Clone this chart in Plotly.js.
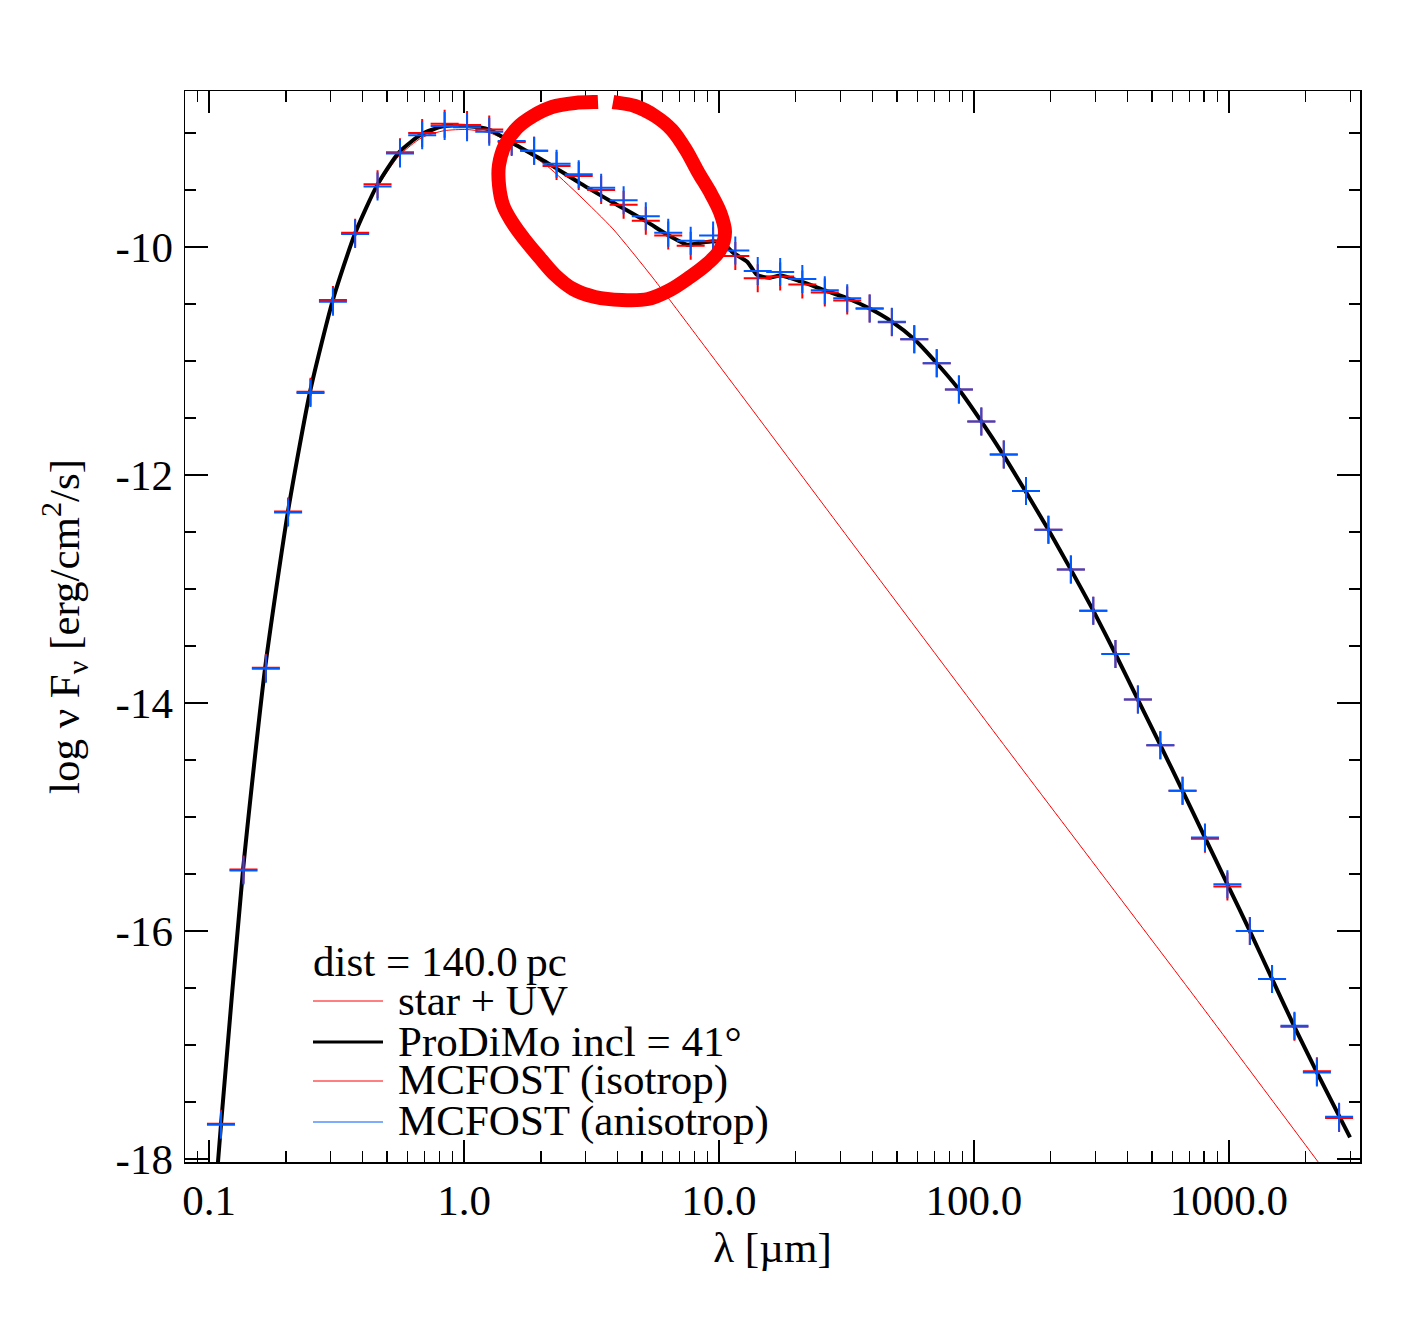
<!DOCTYPE html>
<html><head><meta charset="utf-8">
<script src="https://cdn.plot.ly/plotly-3.0.1.min.js"></script>
<style>body{margin:0;background:#fff}</style>
</head><body><div id="chart" style="width:1417px;height:1337px"></div>
<script>
// ---- data ----
const markerLambda = [0.1114,0.1365,0.1671,0.2042,0.2500,0.3062,0.3741,0.4581,0.5610,0.6855,0.8395,1.028,1.256,1.538,1.884,2.307,2.818,3.451,4.227,5.164,6.324,7.745,9.484,11.59,14.19,17.38,21.23,26.00,31.84,38.99,47.64,58.34,71.45,87.30,106.9,130.9,160.0,195.9,239.9,293.8,358.9,439.5,538.3,657.7,805.4,986.3,1208,1476,1807,2213,2704];
const isotropLogF = [-17.69,-15.46,-13.69,-12.32,-11.27,-10.465,-9.875,-9.45,-9.17,-9.00,-8.92,-8.93,-8.97,-9.08,-9.155,-9.29,-9.377,-9.50,-9.63,-9.77,-9.90,-9.99,-9.95,-10.08,-10.275,-10.26,-10.33,-10.40,-10.47,-10.54,-10.66,-10.81,-11.02,-11.25,-11.53,-11.82,-12.14,-12.48,-12.83,-13.19,-13.57,-13.97,-14.37,-14.77,-15.19,-15.61,-16.00,-16.42,-16.84,-17.23,-17.64];
const anisotropLogF = [-17.70,-15.47,-13.70,-12.33,-11.28,-10.48,-9.886,-9.47,-9.18,-9.02,-8.94,-8.95,-8.99,-9.07,-9.155,-9.27,-9.362,-9.48,-9.59,-9.73,-9.875,-9.945,-9.90,-10.03,-10.21,-10.22,-10.28,-10.38,-10.45,-10.54,-10.655,-10.81,-11.02,-11.25,-11.53,-11.82,-12.14,-12.48,-12.83,-13.19,-13.57,-13.97,-14.37,-14.77,-15.18,-15.59,-16.00,-16.42,-16.83,-17.24,-17.63];

const prodimoLambda = [0.1000,0.1115,0.136,0.166,0.204,0.249,0.306,0.374,0.456,0.556,0.684,0.835,1.027,1.254,1.556,2.116,2.849,3.84,5.22,6.25,7.5,8.2,9.47,10.37,11.35,12.9,14.1,15.85,17.4,20.8,26.0,31.84,38.99,47.64,58.34,71.45,87.3,106.9,130.9,160,195.9,239.9,293.8,358.9,439.5,538.3,657.7,805.4,986.3,1208,1476,1807,2213,2985];
const prodimoLogF = [-19.0,-17.69,-15.46,-13.69,-12.32,-11.27,-10.465,-9.88,-9.46,-9.17,-9.01,-8.94,-8.94,-8.97,-9.09,-9.26,-9.44,-9.61,-9.78,-9.89,-9.98,-9.97,-9.95,-9.965,-10.05,-10.13,-10.245,-10.27,-10.25,-10.30,-10.38,-10.45,-10.54,-10.655,-10.81,-11.02,-11.25,-11.53,-11.83,-12.15,-12.48,-12.83,-13.19,-13.57,-13.97,-14.37,-14.77,-15.18,-15.59,-16.0,-16.42,-16.84,-17.24,-17.81];

const starLambda = [0.1000,0.1115,0.136,0.166,0.204,0.249,0.306,0.374,0.456,0.556,0.684,0.835,1.027,1.265,1.556,2.116,2.849,3.84,5.51,8.42,12.65,32.6,126.3,753,2500];
const starLogF = [-19.0,-17.70,-15.47,-13.70,-12.33,-11.29,-10.48,-9.90,-9.48,-9.20,-9.04,-8.98,-8.97,-9.00,-9.096,-9.289,-9.553,-9.842,-10.272,-10.816,-11.342,-12.57,-14.32,-16.61,-18.17];

const xTickVals = [0.1,1,10,100,1000];
const xTickText = ['0.1','1.0','10.0','100.0','1000.0'];
const xMinorVals = [0.09,0.2,0.3,0.4,0.5,0.6,0.7,0.8,0.9,2,3,4,5,6,7,8,9,20,30,40,50,60,70,80,90,200,300,400,500,600,700,800,900,2000,3000];
const yTickVals = [-18,-16,-14,-12,-10];
const yTickText = ['-18','-16','-14','-12','-10'];
const yMinorVals = [-17.5,-17,-16.5,-15.5,-15,-14.5,-13.5,-13,-12.5,-11.5,-11,-10.5,-9.5,-9,-8.5];

const legendLabels = ['star + UV','ProDiMo incl = 41°','MCFOST (isotrop)','MCFOST (anisotrop)'];
const legendHeader = 'dist = 140.0\u2009pc';

// ---- styling / layout ----
const RED = '#ff0000', BLUE = '#0058ff';
const FONT = 'Liberation Serif, Times New Roman, serif';
// plot area in pixels
const PL = 185, PR = 1360, PT = 91, PB = 1162;
const px = v => (v - PL) / (PR - PL);
const py = v => (PB - v) / (PB - PT);

const traces = [
  {x: starLambda, y: starLogF, mode:'lines', line:{color:RED, width:1, shape:'spline', smoothing:0.6}, hoverinfo:'skip'},
  {x: prodimoLambda, y: prodimoLogF, mode:'lines', line:{color:'#000', width:4, shape:'spline', smoothing:0.6}, hoverinfo:'skip'},
  {x: markerLambda, y: isotropLogF, mode:'markers', marker:{symbol:'cross-thin', size:20, color:RED, line:{color:RED, width:2}}},
  {x: markerLambda, y: anisotropLogF, mode:'markers', marker:{symbol:'cross-thin', size:20, color:BLUE, line:{color:BLUE, width:2}}}
];

// hand-drawn red ellipse (pixel path, smoothed with Catmull-Rom)
const ring = [[598,102],[575,103],[552,107],[533,116],[517,128],[505,145],[499,165],[499,185],[503,205],[512,222],[525,240],[540,258],[555,275],[573,289],[595,297],[622,300],[648,299],[670,290],[690,277],[707,264],[720,250],[725,232],[720,212],[710,192],[698,172],[686,150],[672,130],[655,116],[635,106],[613,102]];
function smoothPath(pts){
  const P = pts.map(p=>[px(p[0]), py(p[1])]);
  let d = 'M' + P[0][0].toFixed(5) + ',' + P[0][1].toFixed(5);
  for (let i=0;i<P.length-1;i++){
    const p0 = P[Math.max(i-1,0)], p1 = P[i], p2 = P[i+1], p3 = P[Math.min(i+2,P.length-1)];
    const c1 = [p1[0]+(p2[0]-p0[0])/6, p1[1]+(p2[1]-p0[1])/6];
    const c2 = [p2[0]-(p3[0]-p1[0])/6, p2[1]-(p3[1]-p1[1])/6];
    d += ' C' + c1[0].toFixed(5)+','+c1[1].toFixed(5)+' '+c2[0].toFixed(5)+','+c2[1].toFixed(5)+' '+p2[0].toFixed(5)+','+p2[1].toFixed(5);
  }
  return d;
}

const shapes = [
  {type:'path', xref:'paper', yref:'paper', path:smoothPath(ring), line:{color:RED, width:14}, layer:'above'}
];
const legendLineY = [1001, 1042, 1081, 1122];
const legendColors = [RED, '#000', RED, BLUE];
const legendWidths = [1, 3, 1, 1];
const annotations = [
  {xref:'paper', yref:'paper', x:px(311), y:py(961), xanchor:'left', yanchor:'middle', text:legendHeader, showarrow:false, font:{family:FONT, size:43, color:'#000'}}
];
legendLabels.forEach((t,i)=>{
  shapes.push({type:'line', xref:'paper', yref:'paper', x0:px(313), x1:px(383), y0:py(legendLineY[i]), y1:py(legendLineY[i]), line:{color:legendColors[i], width:legendWidths[i]}});
  annotations.push({xref:'paper', yref:'paper', x:px(396), y:py(legendLineY[i]-1), xanchor:'left', yanchor:'middle', text:t, showarrow:false, font:{family:FONT, size:43, color:'#000'}});
});

const axisCommon = {
  showline:true, linecolor:'#000', linewidth:1.5, mirror:'ticks',
  ticks:'inside', tickcolor:'#000', tickwidth:1.5,
  showgrid:false, zeroline:false, tickfont:{family:FONT, size:43, color:'#000'}
};

const layout = {
  width:1417, height:1337,
  margin:{l:PL, r:1417-PR, t:PT, b:1337-PB},
  paper_bgcolor:'#fff', plot_bgcolor:'#fff',
  showlegend:false,
  font:{family:FONT, size:43, color:'#000'},
  xaxis: Object.assign({}, axisCommon, {
    type:'log', range:[Math.log10(0.0805), Math.log10(3266)],
    tickmode:'array', tickvals:xTickVals, ticktext:xTickText, ticklen:22,
    ticklabelstandoff:0,
    minor:{tickmode:'array', tickvals:xMinorVals, ticks:'inside', ticklen:11, tickwidth:1.5, tickcolor:'#000', showgrid:false},
    title:{text:'λ [µm]', font:{family:FONT, size:43}, standoff:4},
    automargin:false
  }),
  yaxis: Object.assign({}, axisCommon, {
    range:[-18.026, -8.632],
    tickmode:'array', tickvals:yTickVals, ticktext:yTickText, ticklen:23,
    ticklabelstandoff:2,
    minor:{tickmode:'array', tickvals:yMinorVals, ticks:'inside', ticklen:11, tickwidth:1.5, tickcolor:'#000', showgrid:false},
    title:{text:'log ν F<sub>ν</sub> [erg/cm<sup>2</sup>/s]', font:{family:FONT, size:43}, standoff:22},
    automargin:false
  }),
  shapes: shapes,
  annotations: annotations
};

Plotly.newPlot('chart', traces, layout, {displayModeBar:false, staticPlot:true});
</script>
</body></html>
